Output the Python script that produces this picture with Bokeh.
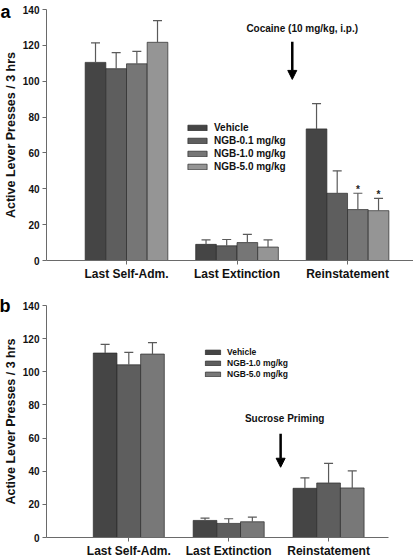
from bokeh.plotting import figure
from bokeh.models import (Range1d, FixedTicker, Whisker, ColumnDataSource, Label,
                          Arrow, NormalHead, TeeHead, Legend, LinearAxis)
from bokeh.layouts import column
from bokeh.embed import file_html
from bokeh.resources import INLINE
from bokeh.core.properties import value

# ---------------- data ----------------
categories = ["Last Self-Adm.", "Last Extinction", "Reinstatement"]
y_ticks = [0, 20, 40, 60, 80, 100, 120, 140]
y_label = "Active Lever Presses / 3 hrs"

# panel a
series_a = ["Vehicle", "NGB-0.1 mg/kg", "NGB-1.0 mg/kg", "NGB-5.0 mg/kg"]
vehicle_a = [110.5, 9.0, 73.4]
ngb01_a = [107.0, 8.2, 37.5]
ngb10_a = [109.7, 10.0, 28.4]
ngb50_a = [121.7, 7.5, 27.8]
err_vehicle_a = [10.9, 2.5, 14.1]
err_ngb01_a = [8.9, 3.5, 12.5]
err_ngb10_a = [6.9, 4.6, 9.1]
err_ngb50_a = [12.1, 4.0, 6.8]
sig_vehicle_a = ["", "", ""]
sig_ngb01_a = ["", "", ""]
sig_ngb10_a = ["", "", "*"]
sig_ngb50_a = ["", "", "*"]
note_a = "Cocaine (10 mg/kg, i.p.)"

# panel b
series_b = ["Vehicle", "NGB-1.0 mg/kg", "NGB-5.0 mg/kg"]
vehicle_b = [111.3, 10.3, 29.7]
ngb10_b = [104.2, 8.5, 32.9]
ngb50_b = [110.7, 9.5, 29.9]
err_vehicle_b = [5.3, 1.4, 6.3]
err_ngb10_b = [7.5, 2.8, 11.8]
err_ngb50_b = [6.9, 2.8, 10.3]
sig_b = ["", "", ""]
note_b = "Sucrose Priming"

colors_a = ["#454545", "#5e5e5e", "#767676", "#959595"]
colors_b = ["#454545", "#5e5e5e", "#787878"]

FONT = "Liberation Sans"
AXIS_COLOR = "#6a6a6a"


def make_panel(series, vals, errs, sigs, colors, bar_w, x_start, x_end,
               frame_w, frame_h, borders, legend_loc, legend_font, glyph_w,
               glyph_h, legend_row_h, panel_letter,
               note, note_xy, arrow_x, arrow_y):
    bl, br, bt, bb = borders
    p = figure(frame_width=frame_w, frame_height=frame_h,
               output_backend="svg", toolbar_location=None,
               x_range=Range1d(x_start, x_end), y_range=Range1d(0, 140),
               min_border_left=bl, min_border_right=br, min_border_top=bt,
               min_border_bottom=bb)
    p.outline_line_color = None
    p.grid.visible = False
    p.background_fill_color = "white"
    p.border_fill_color = "white"

    n = len(series)
    items = []
    for j, (name, v, e, s, c) in enumerate(zip(series, vals, errs, sigs, colors)):
        off = (j - (n - 1) / 2) * bar_w
        xs = [i + off for i in range(len(categories))]
        upper = [a + b for a, b in zip(v, e)]
        src = ColumnDataSource(dict(x=xs, top=v, upper=upper, sig=s))
        r = p.vbar(x="x", top="top", bottom=0, width=bar_w, source=src,
                   fill_color=c, line_color="#2a2a2a", line_width=0.7)
        items.append((name, [r]))
        w = Whisker(source=src, base="x", lower="top", upper="upper",
                    dimension="height", line_color="#5a5a5a", line_width=1.2,
                    upper_head=TeeHead(size=9, line_color="#5a5a5a",
                                       line_width=1.2),
                    lower_head=None, level="glyph")
        p.add_layout(w)
        p.text(x="x", y="upper", text="sig", source=src, text_align="center",
               text_baseline="middle", y_offset=-4,
               text_font=value(FONT), text_font_style="bold",
               text_font_size="10px", text_color="#222222")

    legend = Legend(items=items, location=legend_loc, padding=0, margin=0,
                    spacing=0, glyph_width=glyph_w, glyph_height=glyph_h,
                    label_height=legend_row_h, label_standoff=5,
                    label_text_font=FONT, label_text_font_style="bold",
                    label_text_font_size=legend_font, label_text_color="#111111",
                    border_line_alpha=0, background_fill_alpha=0)
    p.add_layout(legend, "center")

    # inner y axis: ticks and numbers
    p.yaxis.ticker = FixedTicker(ticks=y_ticks)
    p.yaxis.major_label_standoff = 3
    p.xaxis.ticker = FixedTicker(ticks=list(range(len(categories))))
    p.xaxis.major_label_overrides = {i: c for i, c in enumerate(categories)}
    p.xaxis.major_label_standoff = 2
    for ax in (p.xaxis, p.yaxis):
        ax.major_label_text_font = FONT
        ax.major_label_text_font_style = "bold"
        ax.major_label_text_color = "#111111"
        ax.axis_line_color = AXIS_COLOR
        ax.major_tick_line_color = AXIS_COLOR
        ax.major_tick_in = 0
        ax.major_tick_out = 4
        ax.minor_tick_line_color = None
    p.yaxis.major_label_text_font_size = "10px"
    p.xaxis.major_label_text_font_size = "12px"

    # outer y axis: panel letter and axis title
    outer = LinearAxis(ticker=FixedTicker(ticks=[y_ticks[-1]]),
                       major_label_overrides={y_ticks[-1]: panel_letter},
                       axis_label=y_label)
    outer.axis_line_color = None
    outer.major_tick_line_color = None
    outer.minor_tick_line_color = None
    outer.major_tick_in = 0
    outer.major_tick_out = 0
    outer.major_label_standoff = 9
    outer.major_label_text_font = FONT
    outer.major_label_text_font_style = "bold"
    outer.major_label_text_font_size = "18px"
    outer.major_label_text_color = "black"
    outer.axis_label_text_font = FONT
    outer.axis_label_text_font_style = "bold"
    outer.axis_label_text_font_size = "12.5px"
    outer.axis_label_text_color = "#111111"
    outer.axis_label_standoff = -21
    p.add_layout(outer, "left")

    # annotations
    p.add_layout(Label(x=note_xy[0], y=note_xy[1], text=note,
                       text_align="center", text_baseline="middle",
                       text_font=FONT, text_font_style="bold",
                       text_font_size="10px", text_color="#111111"))
    p.add_layout(Arrow(x_start=arrow_x, y_start=arrow_y[0], x_end=arrow_x,
                       y_end=arrow_y[1], line_width=2.5, line_color="black",
                       end=NormalHead(size=9, fill_color="black",
                                      line_color="black")))
    return p


pa = make_panel(series_a, [vehicle_a, ngb01_a, ngb10_a, ngb50_a],
                [err_vehicle_a, err_ngb01_a, err_ngb10_a, err_ngb50_a],
                [sig_vehicle_a, sig_ngb01_a, sig_ngb10_a, sig_ngb50_a],
                colors_a, 0.187, -0.724, 2.615, 369, 251, (43, 1, 9, 21),
                (139, 87), "10px", 24, 7, 13, "a",
                note_a, (1.59, 129.6), 1.5, (122, 101))

pb = make_panel(series_b, [vehicle_b, ngb10_b, ngb50_b],
                [err_vehicle_b, err_ngb10_b, err_ngb50_b],
                [sig_b, sig_b, sig_b],
                colors_b, 0.237, -0.824, 2.60, 342, 232, (44, 27, 22, 21),
                (157, 158), "8.5px", 19, 6, 11, "b",
                note_b, (1.56, 71.6), 1.52, (62.6, 42.4))

layout = column(pa, pb, spacing=0)
open("out.html", "w").write(file_html(layout, INLINE))
